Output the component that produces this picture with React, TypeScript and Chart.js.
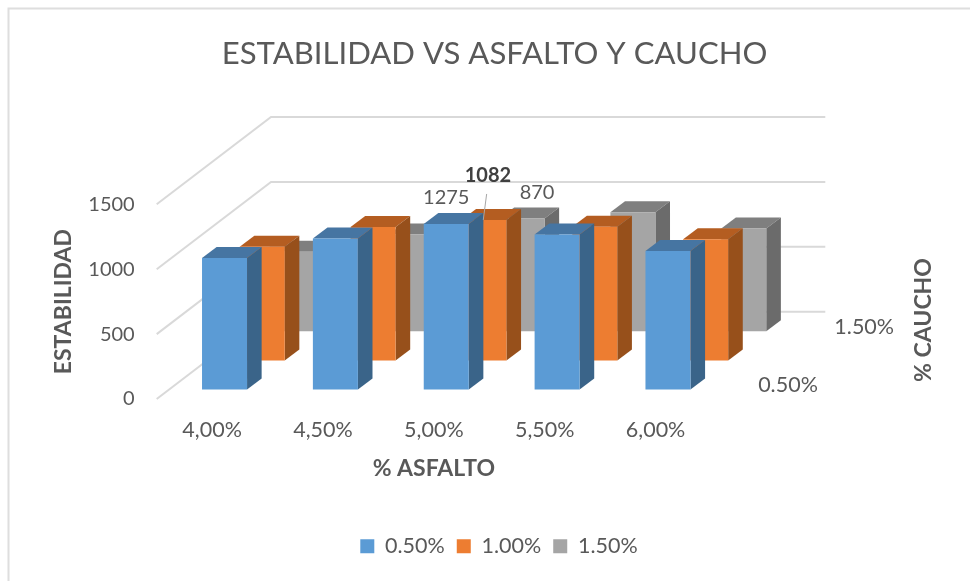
import React, { useEffect, useRef } from "react";
import { Chart, registerables } from "chart.js";

Chart.register(...registerables);

const titleText = "ESTABILIDAD VS ASFALTO Y CAUCHO";
const xAxisTitle = "% ASFALTO";
const yAxisTitle = "ESTABILIDAD";
const depthAxisTitle = "% CAUCHO";
const categories = ["4,00%", "4,50%", "5,00%", "5,50%", "6,00%"];
const seriesNames = ["0.50%", "1.00%", "1.50%"];
const values050 = [1014, 1163, 1275, 1194, 1068];
const values100 = [875, 1028, 1082, 1030, 934];
const values150 = [613, 746, 870, 918, 792];
const yTicks = [0, 500, 1000, 1500];
const depthTickLabels = ["0.50%", "", "1.50%"];
const frontColors = ["#5B9BD5", "#ED7D31", "#A5A5A5"];
const topColors = ["#4675A2", "#B45D21", "#7F7F7F"];
const sideColors = ["#3A6489", "#97501B", "#6B6B6B"];

const FONT = "Lato";
const TEXT = "#595959";
const DEPTH_X = 38.1;
const DEPTH_Y = 29.1;
const FRONT_X = 12.4;
const FRONT_Y = 9.5;
const SIDE_X = 14.6;
const SIDE_Y = 11;

const shift = (i: number) => ({
  x: FRONT_X + DEPTH_X * i - (i ? 0.4 : 0),
  y: -FRONT_Y - DEPTH_Y * i,
});

const poly = (ctx: CanvasRenderingContext2D, pts: number[][], color: string) => {
  ctx.fillStyle = color;
  ctx.beginPath();
  pts.forEach(([x, y], i) => (i ? ctx.lineTo(x, y) : ctx.moveTo(x, y)));
  ctx.closePath();
  ctx.fill();
};

const bars3d = {
  id: "bars3d",
  afterLayout(chart: any) {
    chart.legend.left += 4.5;
    chart.legend.right += 4.5;
  },
  beforeDraw(chart: any) {
    const { ctx, width, height } = chart;
    ctx.save();
    ctx.fillStyle = "#FFFFFF";
    ctx.fillRect(0, 0, width, height);
    ctx.strokeStyle = "#DEDEDE";
    ctx.lineWidth = 2;
    ctx.beginPath();
    ctx.moveTo(width, 8.5);
    ctx.lineTo(8.5, 8.5);
    ctx.lineTo(8.5, height);
    ctx.stroke();
    ctx.restore();
  },
  beforeDatasetsDraw(chart: any) {
    const { ctx, chartArea, scales } = chart;
    const bx = DEPTH_X * 3;
    const by = DEPTH_Y * 3;
    ctx.save();
    ctx.strokeStyle = "#D9D9D9";
    ctx.lineWidth = 2;
    yTicks.forEach((v) => {
      const y = scales.y.getPixelForValue(v);
      ctx.beginPath();
      ctx.moveTo(chartArea.left, y);
      ctx.lineTo(chartArea.left + bx, y - by);
      ctx.lineTo(chartArea.right + bx, y - by);
      ctx.stroke();
    });
    ctx.restore();
  },
  beforeDatasetDraw(chart: any, args: any) {
    const { ctx } = chart;
    const i = args.index;
    const s = shift(i);
    ctx.save();
    ctx.translate(s.x, s.y);
    args.meta.data.forEach((bar: any) => {
      const l = bar.x - bar.width / 2;
      const r = bar.x + bar.width / 2;
      const t = bar.y;
      const b = bar.base;
      poly(ctx, [[l, t], [r, t], [r + SIDE_X, t - SIDE_Y], [l + SIDE_X, t - SIDE_Y]], topColors[i]);
      poly(ctx, [[r, t], [r + SIDE_X, t - SIDE_Y], [r + SIDE_X, b - SIDE_Y], [r, b]], sideColors[i]);
    });
  },
  afterDatasetDraw(chart: any) {
    chart.ctx.restore();
  },
  afterDatasetsDraw(chart: any) {
    const { ctx, chartArea } = chart;
    ctx.save();
    ctx.textAlign = "center";
    ctx.textBaseline = "middle";
    ctx.fillStyle = TEXT;
    const label = (series: number, index: number, dx: number, dy: number, bold = false) => {
      const bar = chart.getDatasetMeta(series).data[index];
      const s = shift(series);
      ctx.font = `${bold ? "bold " : ""}20px ${FONT}`;
      ctx.fillStyle = bold ? "#404040" : TEXT;
      ctx.fillText(String(chart.data.datasets[series].data[index]), bar.x + s.x + dx, bar.y + s.y + dy);
      return { x: bar.x + s.x, y: bar.y + s.y };
    };
    label(0, 2, 0, -26);
    const p = label(1, 2, 4, -44, true);
    label(2, 2, 15, -26);
    ctx.strokeStyle = "#A6A6A6";
    ctx.lineWidth = 1;
    ctx.beginPath();
    ctx.moveTo(p.x + 2.7, p.y - 26);
    ctx.lineTo(p.x - 0.7, p.y);
    ctx.stroke();

    ctx.font = `21.5px ${FONT}`;
    ctx.fillStyle = TEXT;
    depthTickLabels.forEach((t, i) => {
      if (!t) return;
      ctx.fillText(t, chartArea.right + 77 + DEPTH_X * i, chartArea.bottom - 14 - DEPTH_Y * i);
    });

    ctx.font = `bold 23px ${FONT}`;
    ctx.translate(923.5, 320);
    ctx.rotate(-Math.PI / 2);
    ctx.fillText(depthAxisTitle, 0, 0);
    ctx.restore();
  },
};

export default function App() {
  const ref = useRef<HTMLCanvasElement | null>(null);
  useEffect(() => {
    if (!ref.current) return;
    const allValues = [values050, values100, values150];
    const chart = new Chart(ref.current, {
      type: "bar",
      data: {
        labels: categories,
        datasets: seriesNames.map((name, i) => ({
          label: name,
          data: allValues[i],
          backgroundColor: frontColors[i],
          borderWidth: 0,
          clip: false as any,
          grouped: false,
          barPercentage: 0.406,
          categoryPercentage: 1,
        })),
      },
      plugins: [bars3d],
      options: {
        responsive: false,
        animation: false,
        events: [],
        layout: { padding: { left: 19, right: 0, top: 0, bottom: 14 } },
        plugins: {
          tooltip: { enabled: false },
          title: {
            display: true,
            text: titleText,
            color: TEXT,
            font: { family: FONT, size: 31.1, weight: "normal" },
            padding: { top: 35, bottom: 132 },
          },
          legend: {
            display: true,
            position: "bottom",
            labels: {
              boxWidth: 14,
              boxHeight: 14,
              color: TEXT,
              padding: 12,
              font: { family: FONT, size: 21.5 },
            },
          },
        },
        scales: {
          x: {
            grid: { display: false, drawTicks: false },
            border: { display: false },
            ticks: { color: TEXT, padding: 18, font: { family: FONT, size: 21.5 }, maxRotation: 0, autoSkip: false },
            title: {
              display: true,
              text: xAxisTitle,
              color: TEXT,
              font: { family: FONT, size: 23, weight: "bold" },
              padding: { top: 0, bottom: 41 },
            },
            afterFit(scale: any) {
              scale.height = 124.5;
            },
          },
          y: {
            min: 0,
            max: 1500,
            grid: { display: false, drawTicks: false },
            border: { display: false },
            ticks: {
              stepSize: 500,
              color: TEXT,
              padding: 22,
              font: { family: FONT, size: 20 },
              callback: (v: any) => String(v),
            },
            title: {
              display: true,
              text: yAxisTitle,
              color: TEXT,
              font: { family: FONT, size: 23, weight: "bold" },
              padding: { top: 30.5, bottom: 0 },
            },
            afterFit(scale: any) {
              scale.width = 137.7;
            },
          },
          depth: {
            type: "linear",
            position: "right",
            display: true,
            grid: { display: false, drawTicks: false },
            border: { display: false },
            ticks: { display: false },
            afterFit(scale: any) {
              scale.width = 259;
            },
          },
        },
      } as any,
    });
    return () => chart.destroy();
  }, []);
  return (
    <div style={{ position: "fixed", left: 0, top: 0, width: 970, height: 581, overflow: "hidden" }}>
      <canvas ref={ref} width={970} height={581} style={{ display: "block" }} />
    </div>
  );
}
